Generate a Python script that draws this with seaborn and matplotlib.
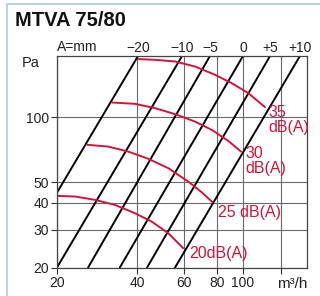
import matplotlib
matplotlib.use("Agg")
import matplotlib.pyplot as plt
import pandas as pd
import seaborn as sns
from matplotlib.lines import Line2D
from matplotlib.ticker import FixedLocator, NullLocator

# damper settings A (mm): flow where each line crosses 20 Pa and the top edge
settings = ["\u221220", "\u221210", "\u22125", "0", "+5", "+10"]
q_at_20pa = [13.6, 20.0, 26.2, 34.5, 43.7, 55.7]
q_at_top = [40.4, 59.2, 75.4, 100.4, 127.0, 164.6]
p_low, p_top = 20, 193

# sound level curves (m3/h, Pa)
snd_35_q = [40.5, 46.8, 55.7, 66.2, 78.8, 91.0, 105.2, 121.5]
snd_35_p = [186.7, 185.3, 182, 172.5, 157.8, 144.3, 129.6, 111.6]
snd_30_q = [32.3, 39.3, 46.8, 55.7, 66.2, 76.6, 88.4, 98.7]
snd_30_p = [117.2, 115.6, 110.4, 103.5, 95.6, 87.4, 77.7, 69.3]
snd_25_q = [26.0, 31.2, 37.1, 44.2, 52.5, 62.5, 70.2, 77.0]
snd_25_p = [74.5, 73.1, 69.3, 64.1, 58.0, 50.2, 44.8, 40.3]
snd_20_q = [20.0, 23.4, 27.8, 33.1, 39.3, 45.5, 52.5, 59.8]
snd_20_p = [43.1, 42.8, 41.3, 39.1, 35.8, 32.7, 28.9, 24.6]

x_ticks = [20, 40, 60, 80, 100, 140]
x_labels = ["20", "40", "60", "80", "100", ""]
y_ticks = [20, 30, 40, 50, 100]

RED = "#d2143c"

damp = pd.DataFrame({
    "q": q_at_20pa + q_at_top,
    "p": [p_low] * len(settings) + [p_top] * len(settings),
    "setting": settings * 2,
})
snd = pd.concat([
    pd.DataFrame({"q": q, "p": p, "level": lvl})
    for q, p, lvl in [(snd_35_q, snd_35_p, 35), (snd_30_q, snd_30_p, 30),
                      (snd_25_q, snd_25_p, 25), (snd_20_q, snd_20_p, 20)]
])

sns.set_style("white")
plt.rcParams["font.family"] = ["Liberation Sans", "DejaVu Sans"]

fig = plt.figure(figsize=(3.2, 2.96), dpi=100)
ax = fig.add_axes([57 / 320, 1 - 267.5 / 296, 250 / 320, 211.5 / 296])

sns.lineplot(data=damp, x="q", y="p", units="setting", estimator=None,
             color="black", lw=1.4, ax=ax)
sns.lineplot(data=snd, x="q", y="p", units="level", estimator=None,
             sort=False, color=RED, lw=1.4, ax=ax)

ax.set(xscale="log", yscale="log", xlim=(20, 175), ylim=(20, p_top),
       xlabel="", ylabel="")
ax.xaxis.set_major_locator(FixedLocator(x_ticks))
ax.xaxis.set_minor_locator(NullLocator())
ax.set_xticklabels(x_labels)
ax.yaxis.set_major_locator(FixedLocator(y_ticks))
ax.yaxis.set_minor_locator(NullLocator())
ax.set_yticklabels([str(v) for v in y_ticks])
ax.grid(True, which="major", color="#6a6a6a", lw=0.8)
ax.tick_params(direction="out", length=4, width=0.8, color="#333",
               labelsize=10, pad=2, labelcolor="#222",
               bottom=True, left=True)
for s in ax.spines.values():
    s.set_color("#444")
    s.set_linewidth(0.9)

top = ax.secondary_xaxis("top")
top.xaxis.set_major_locator(FixedLocator(q_at_top))
top.xaxis.set_minor_locator(NullLocator())
top.set_xticklabels(settings)
top.tick_params(length=0, pad=1, labelsize=10, labelcolor="#222")
top.spines["top"].set_visible(False)

ax.text(0.0, 1.01, "A=mm", transform=ax.transAxes, ha="left", va="bottom",
        fontsize=10, color="#222")
ax.text(-0.14, 0.967, "Pa", transform=ax.transAxes, ha="left", va="center",
        fontsize=10.5, color="#222")
ax.text(0.94, -0.078, "m\u00b3/h", transform=ax.transAxes, ha="center",
        va="center", fontsize=11, color="#222")

# dB(A) labels next to the ends of the curves
labels = [("35\ndB(A)", 124.8, 97.3), ("30\ndB(A)", 102.2, 62.7),
          ("25 dB(A)", 80.9, 35.9), ("20dB(A)", 62.9, 23.2)]
for txt, q, p in labels:
    ax.text(q, p, txt, ha="left", va="center", fontsize=11.5, color=RED,
            linespacing=1.0)

fig.text(15 / 320, 1 - 20.5 / 296, "MTVA 75/80", fontsize=14.5,
         fontweight="bold", va="center", ha="left", color="#111")

# light blue frame on the left and top
fig.add_artist(Line2D([7 / 320, 7 / 320], [0, 1 - 4 / 296],
                      transform=fig.transFigure, color="#bcd3e6", lw=1.5))
fig.add_artist(Line2D([7 / 320, 1], [1 - 4 / 296, 1 - 4 / 296],
                      transform=fig.transFigure, color="#bcd3e6", lw=1.5))

fig.savefig("out.png", dpi=100)
